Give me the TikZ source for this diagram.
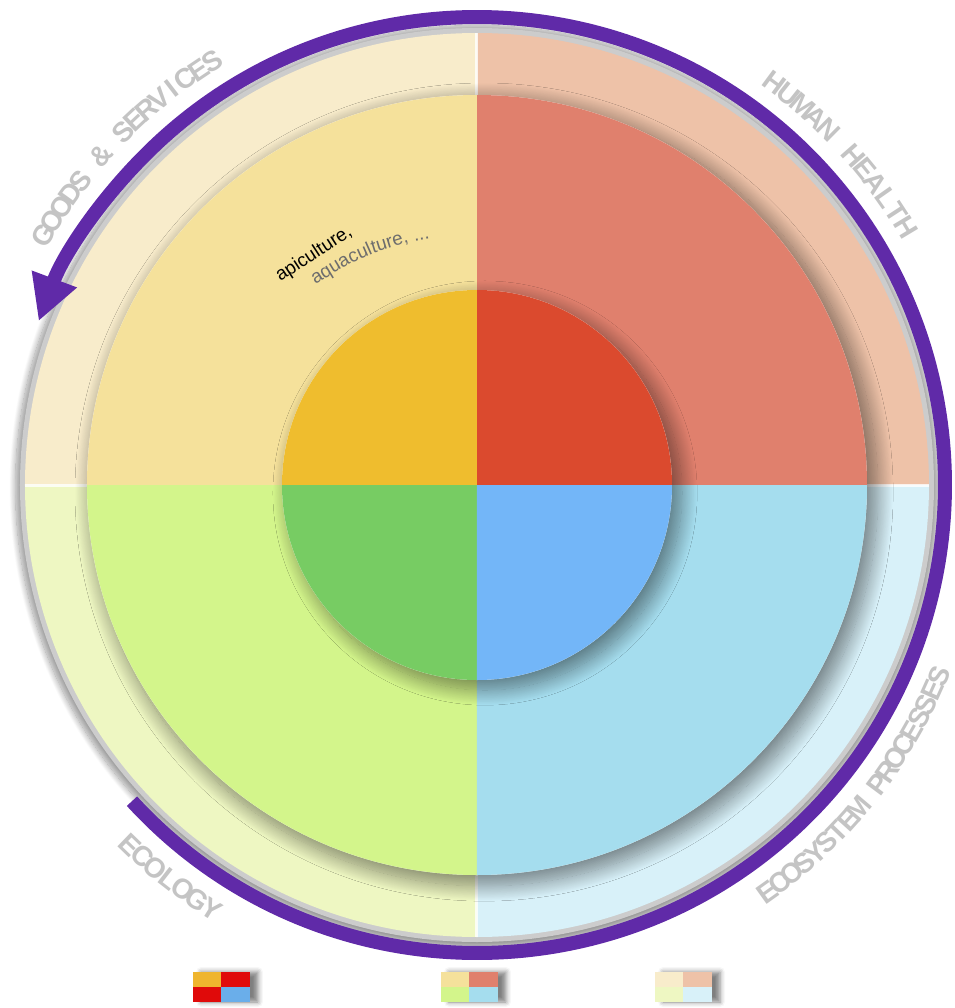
\documentclass[tikz,border=0pt]{standalone}
\usepackage{fontspec}
\setmainfont{Liberation Sans}
\usetikzlibrary{arrows.meta,positioning,shadows.blur}

\definecolor{ringTL}{HTML}{F8ECCB}
\definecolor{ringTR}{HTML}{EEC2A8}
\definecolor{ringBL}{HTML}{EEF7C2}
\definecolor{ringBR}{HTML}{D8F1F9}
\definecolor{midTL}{HTML}{F5E19B}
\definecolor{midTR}{HTML}{E0806D}
\definecolor{midBL}{HTML}{D3F58B}
\definecolor{midBR}{HTML}{A5DDEE}
\definecolor{coreTL}{HTML}{EFBD2E}
\definecolor{coreTR}{HTML}{DB4A2E}
\definecolor{coreBL}{HTML}{77CC63}
\definecolor{coreBR}{HTML}{73B6F8}
\definecolor{legGold}{HTML}{EFB52E}
\definecolor{legRed}{HTML}{E00A0A}
\definecolor{legBlue}{HTML}{6AAEEA}
\definecolor{cyclePurple}{RGB}{96,42,168}
\definecolor{labelGray}{HTML}{C4C4C4}
\definecolor{noteGray}{HTML}{6D6D6D}

% letters of a ring label: first angle, step, turn, letters
\newcommand{\arclabel}[4]{%
  \foreach \ch [count=\i] in {#4}
    \node[labeltext,rotate={#1+(\i-1)*(#2)+(#3)}] at ({#1+(\i-1)*(#2)}:500) {\ch};}

\begin{document}
\begin{tikzpicture}[x=0.2mm,y=0.2mm,
    labeltext/.style={font=\bfseries\fontsize{16pt}{18pt}\selectfont,text=labelGray,inner sep=0pt},
    notefont/.style={font=\fontsize{10.7pt}{12pt}\selectfont,inner sep=0pt,anchor=base west},
    softshadow/.style={blur shadow={shadow xshift=#1,shadow yshift=-#1,shadow blur radius=3mm,
      shadow blur steps=24,shadow scale=1.01,shadow opacity=45}}]
  \useasboundingbox (-477,-523) rectangle (478,485);

  % outer ring
  \fill[gray!40,blur shadow={shadow xshift=0mm,shadow yshift=-0.4mm,shadow blur radius=1.2mm,shadow blur steps=16,shadow scale=1.01,shadow opacity=40}] (0,0) circle (457);
  \foreach \col/\ang in {ringTR/0,ringTL/90,ringBL/180,ringBR/270}
    \fill[\col] (0,0) -- (\ang:452) arc[start angle=\ang,delta angle=90,radius=452] -- cycle;
  \draw[white,line width=0.6mm,opacity=0.8] (0,-452) -- (0,452) (-452,0) -- (452,0);

  % middle ring
  \fill[white,softshadow=1.4mm] (0,0) circle (390);
  \foreach \col/\ang in {midTR/0,midTL/90,midBL/180,midBR/270}
    \fill[\col] (0,0) -- (\ang:390) arc[start angle=\ang,delta angle=90,radius=390] -- cycle;

  % core
  \fill[white,softshadow=1.6mm] (0,0) circle (195);
  \foreach \col/\ang in {coreTR/0,coreTL/90,coreBL/180,coreBR/270}
    \fill[\col] (0,0) -- (\ang:195) arc[start angle=\ang,delta angle=90,radius=195] -- cycle;

  % cycle arrow
  \draw[cyclePurple,line width=2.8mm,-{Triangle[length=9mm,width=9mm]}] (222.5:468) arc[start angle=222.5,end angle=519.5,radius=468];

  % ring labels
  \arclabel{150}{-1.867}{-90}{G,O,O,D,S,{},\&,{},S,E,R,V,I,C,E,S}
  \arclabel{53.5}{-2.045}{-90}{H,U,M,A,N,{},H,E,A,L,T,H}
  \arclabel{-54.5}{1.78}{90}{E,C,O,S,Y,S,T,E,M,{},P,R,O,C,E,S,S,E,S}
  \arclabel{226}{2}{90}{E,C,O,L,O,G,Y}

  % note
  \node[notefont,rotate=33] (api) at (-197,203) {apiculture,};
  \node[notefont,text=noteGray,rotate=31.3] (aq1) at (-162,200) {aqua};
  \node[notefont,text=noteGray,rotate=23.9] (aq2) at (-126.1,221.8) {cul};
  \node[notefont,text=noteGray,rotate=17] (aq3) at (-104.2,231.5) {ture,};
  \node[notefont,text=noteGray,rotate=10.4] (aq4) at (-67.9,242.6) {\ ...};

  % legend
  \foreach \lx/\ca/\cb/\cc/\cd in {-284/legGold/legRed/legRed/legBlue,
      -36/midTL/midTR/midBL/midBR, 178/ringTL/ringTR/ringBL/ringBR} {
    \fill[white,blur shadow={shadow xshift=1.6mm,shadow yshift=0mm,shadow blur radius=1mm,shadow opacity=50}] (\lx,-517) rectangle ++(57,30);
    \fill[\ca] (\lx,-502) rectangle ++(28.5,15);
    \fill[\cb] (\lx+28.5,-502) rectangle ++(28.5,15);
    \fill[\cc] (\lx,-517) rectangle ++(28.5,15);
    \fill[\cd] (\lx+28.5,-517) rectangle ++(28.5,15);
  }
\end{tikzpicture}
\end{document}
